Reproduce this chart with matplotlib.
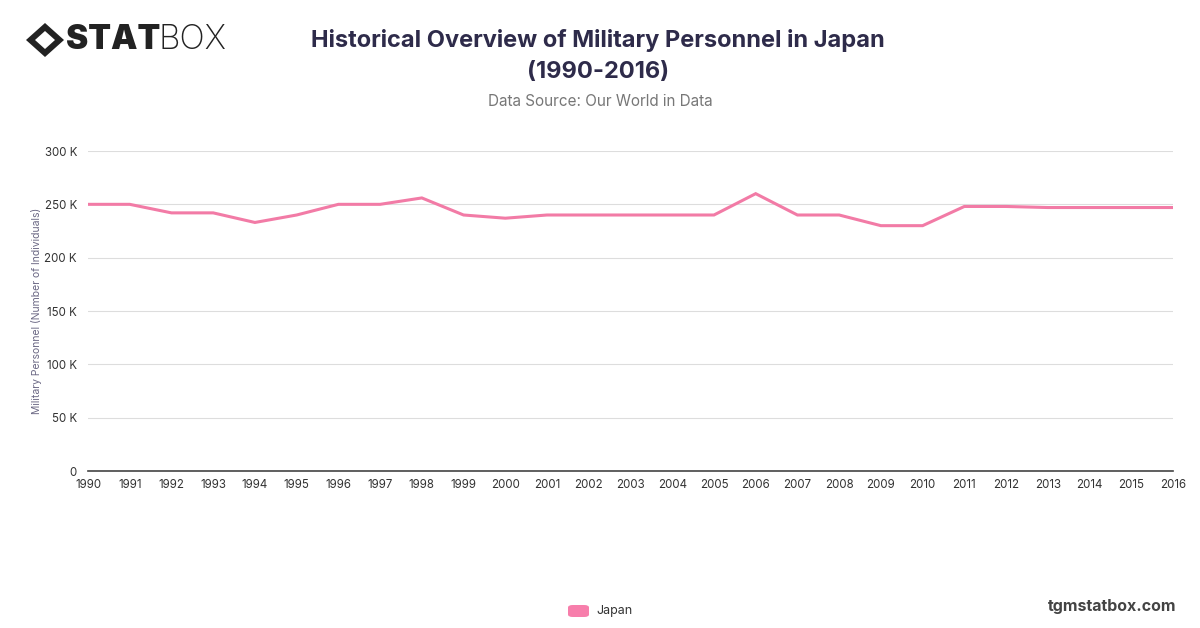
# Military personnel in Japan, 1990-2016 (StatBox style line chart)
import numpy as np
import matplotlib.pyplot as plt
from matplotlib.patches import Polygon, FancyBboxPatch
from matplotlib.ticker import FuncFormatter

plt.rcParams['font.family'] = ['Inter', 'DejaVu Sans']

# ── data ──
years = list(range(1990, 2017))
personnel = [250000, 250000, 242000, 242000, 233000, 240000, 250000, 250000,
             256000, 240000, 237000, 240000, 240000, 240000, 240000, 240000,
             260000, 240000, 240000, 230000, 230000, 248000, 248000, 247000,
             247000, 247000, 247000]
series_name = 'Japan'
line_color = '#f27ba6'

# ── figure ──
fig = plt.figure(figsize=(12, 6.28), dpi=100)
ax = fig.add_axes([88 / 1200, 1 - 471 / 628, (1173 - 88) / 1200, (471 - 151) / 628])

ax.plot(years, personnel, color=line_color, linewidth=2.2, solid_joinstyle='miter')
ax.set_xlim(years[0], years[-1])
ax.set_ylim(0, 300000)
ax.set_xticks(years)
ax.set_xticklabels([str(y) for y in years], fontsize=8.3, color='#333333')
ax.set_yticks(np.arange(0, 300001, 50000))
ax.yaxis.set_major_formatter(FuncFormatter(lambda v, p: '0' if v == 0 else f'{int(v / 1000)} K'))
ax.tick_params(axis='y', length=0, labelsize=8.3, labelcolor='#333333', pad=8)
ax.tick_params(axis='x', length=0, pad=6)
ax.grid(axis='y', color='#dddddd', linewidth=0.8)
ax.set_axisbelow(True)
for s in ['top', 'right', 'left']:
    ax.spines[s].set_visible(False)
ax.spines['bottom'].set_color('#444444')
ax.spines['bottom'].set_linewidth(1.2)
ax.set_ylabel('Military Personnel (Number of Individuals)', fontsize=7.5,
              color='#6b6884', labelpad=2)

# ── titles ──
fig.text(0.498, 1 - 56 / 628, 'Historical Overview of Military Personnel in Japan\n(1990-2016)',
         ha='center', va='center', fontsize=17, fontweight='bold', color='#2e2b4a',
         linespacing=1.55)
fig.text(0.5, 1 - 101 / 628, 'Data Source: Our World in Data', ha='center', va='center',
         fontsize=11, color='#777777')

# ── logo ──
cx, cy = 45 / 1200, 1 - 40 / 628
w, h = 19 / 1200, 17 / 628
fig.patches.append(Polygon([[cx - w, cy], [cx, cy + h], [cx + w, cy], [cx, cy - h]],
                           closed=True, transform=fig.transFigure, facecolor='#222222'))
w2, h2 = 10 / 1200, 9 / 628
fig.patches.append(Polygon([[cx - w2, cy], [cx, cy + h2], [cx + w2, cy], [cx, cy - h2]],
                           closed=True, transform=fig.transFigure, facecolor='white'))
fig.text(66 / 1200, cy, 'STAT', ha='left', va='center', fontsize=24, fontweight='black',
         color='#222222')
fig.text(159 / 1200, cy, 'BOX', ha='left', va='center', fontsize=24, fontweight='light',
         color='#222222')

# ── legend & footer ──
fig.patches.append(FancyBboxPatch((568 / 1200, 1 - 617 / 628), 21 / 1200, 12 / 628,
                                  boxstyle='round,pad=0,rounding_size=0.004',
                                  transform=fig.transFigure, facecolor='#f77eab',
                                  edgecolor='none'))
fig.text(596 / 1200, 1 - 611 / 628, series_name, ha='left', va='center', fontsize=9,
         color='#333333')
fig.text(1176 / 1200, 1 - 606 / 628, 'tgmstatbox.com', ha='right', va='center',
         fontsize=11.5, fontweight='bold', color='#444444')

fig.savefig('out.png', dpi=100, facecolor='white')
